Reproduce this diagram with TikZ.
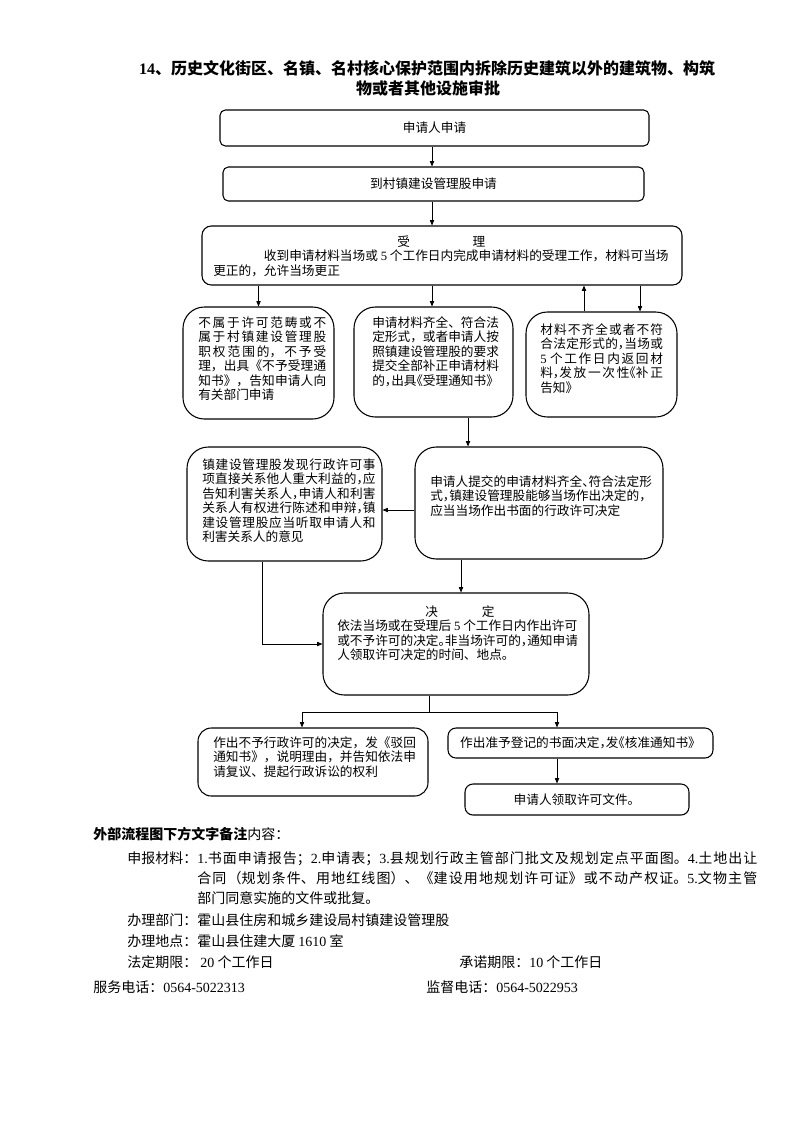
\documentclass[tikz,border=0pt]{standalone}
\usepackage{fontspec}
\setmainfont{Noto Sans CJK SC}
\newfontfamily\lat{Liberation Serif}
\usetikzlibrary{arrows.meta,calc}
\XeTeXlinebreaklocale "zh"
\XeTeXlinebreakskip = 0pt plus 3pt
\newcommand{\hl}[1]{\makebox[0.5em][l]{#1}}
\newcommand{\hr}[1]{\makebox[0.5em][r]{#1}}
\newcommand{\bx}[6]{\node[box=#6pt, minimum width=(#3-#1)*0.75pt, minimum height=(#4-#2)*0.75pt] (#5) at ({(#1+#3)/2},{(#2+#4)/2}) {};}
\begin{document}
\begin{tikzpicture}[x=0.75pt,y=-0.75pt,
  box/.style={draw, line width=0.8pt, rounded corners=#1, inner sep=0pt},
  box/.default=6pt,
  txt/.style={inner sep=0pt, font=\fontsize{9.5}{10.8}\selectfont, align=left},
  jtxt/.style={txt, align=justify},
  btxt/.style={inner sep=0pt, font=\fontsize{10.5}{15}\selectfont, align=left},
  ttl/.style={inner sep=0pt, font=\fontsize{12}{14}\selectfont\bfseries},
  arr/.style={-{Triangle[length=4pt,width=3.2pt]}, line width=0.6pt},
  ln/.style={line width=0.6pt}]
\useasboundingbox (0,0) rectangle (793,1122);
\fill[white] (0,0) rectangle (793,1122);

% title
\node[ttl] (t1) at (427,68) {{\lat\bfseries 14}、历史文化街区、名镇、名村核心保护范围内拆除历史建筑以外的建筑物、构筑};
\node[ttl] (t2) at (428,88) {物或者其他设施审批};

% boxes
\bx{220}{110}{649}{146}{a1}{4}
\bx{223}{167}{644}{201}{a2}{4}
\bx{202}{226}{682}{285}{a3}{7}
\bx{183}{307}{334}{419}{b1}{16}
\bx{354}{307}{513}{417}{b2}{16}
\bx{526}{312}{677}{417}{b3}{16}
\bx{187}{447}{382}{561}{c1}{16}
\bx{415}{447}{663}{559}{c2}{16}
\bx{323}{593}{589}{695}{d}{16}
\bx{198}{728}{428}{796}{e1}{10}
\bx{448}{728}{713}{758}{e2}{6}
\bx{465}{784}{689}{815}{f}{6}

% texts
\node[txt] (ta1) at (a1) {申请人申请};
\node[txt] (ta2) at (a2) {到村镇建设管理股申请};
\node[txt, anchor=north west] (ta3) at (213,235.5) {\hspace*{138pt}受\hspace*{47pt}理\\
\hspace*{38pt}收到申请材料当场或 {\lat 5} 个工作日内完成申请材料的受理工作，材料可当场\\
更正的，允许当场更正};
\node[jtxt, text width=96pt, anchor=north west] (tb1) at (198,316.5) {不属于许可范畴或不\linebreak
属于村镇建设管理股\linebreak
职权范围的，不予受\linebreak
理，出具《不予受理通\linebreak
知书》，告知申请人向\linebreak
有关部门申请};
\node[txt, anchor=north west] (tb2) at (372,316.5) {申请材料齐全、符合法\\
定形式，或者申请人按\\
照镇建设管理股的要求\\
提交全部补正申请材料\\
的\hl{，}出具\hr{《}受理通知书》};
\node[jtxt, text width=92pt, anchor=north west] (tb3) at (540,323.5) {材料不齐全或者不符\linebreak
合法定形式的\hl{，}当场或\linebreak
{\lat 5} 个工作日内返回材\linebreak
料\hl{，}发放一次性\hr{《}补正\linebreak
告知》};
\node[jtxt, text width=130pt, anchor=north west] (tc1) at (202,458.5) {镇建设管理股发现行政许可事\linebreak
项直接关系他人重大利益的\hl{，}应\linebreak
告知利害关系人\hl{，}申请人和利害\linebreak
关系人有权进行陈述和申辩\hl{，}镇\linebreak
建设管理股应当听取申请人和\linebreak
利害关系人的意见};
\node[txt, anchor=north west] (tc2) at (430,475.5) {申请人提交的申请材料齐全\hl{、}符合法定形\\
式\hl{，}镇建设管理股能够当场作出决定的\hl{，}\\
应当当场作出书面的行政许可决定};
\node[txt, anchor=north west] (td) at (337,605.5) {\hspace*{66pt}决\hspace*{33pt}定\\
依法当场或在受理后 {\lat 5} 个工作日内作出许可\\
或不予许可的决定\hl{。}非当场许可的\hl{，}通知申请\\
人领取许可决定的时间、地点。};
\node[txt, anchor=north west] (te1) at (213,736.5) {作出不予行政许可的决定，发《驳回\\
通知书》，说明理由，并告知依法申\\
请复议、提起行政诉讼的权利};
\node[txt] (te2) at (e2) {作出准予登记的书面决定\hl{，}发\hr{《}核准通知书》};
\node[txt] (tf) at (f) {申请人领取许可文件。};

% connectors
\draw[arr] (a1.south -| 432,0) -- (a2.north -| 432,0);
\draw[arr] (a2.south -| 432,0) -- (a3.north -| 432,0);
\draw[arr] (a3.south -| b1.north) -- (b1.north);
\draw[arr] (a3.south -| 432,0) -- (b2.north -| 432,0);
\draw[arr] (b3.north -| 584,0) -- (a3.south -| 584,0);
\draw[arr] (a3.south -| 640,0) -- (b3.north -| 640,0);
\draw[arr] (b2.south -| 468,0) -- (c2.north -| 468,0);
\draw[arr] (c2.west |- 0,510) -- (c1.east |- 0,510);
\draw[arr] (c2.south -| 461,0) -- (d.north -| 461,0);
\draw[arr] (c1.south -| 262,0) |- (d.west);
\coordinate (j) at (429,712);
\draw[ln] (d.south -| j) -- (j);
\draw[arr] (j) -| (e1.north -| 302,0);
\draw[arr] (j) -| (e2.north -| 557,0);
\draw[arr] (e2.south -| 557,0) -- (f.north -| 557,0);

% bottom notes
\node[btxt, anchor=west] (n0) at (93,834) {{\bfseries 外部流程图下方文字备注}内容：};
\node[btxt, anchor=west] (n1) at (127,858) {申报材料：};
\node[btxt, anchor=north west, text width=420pt, align=justify] (n1b) at (197,851) {{\lat 1.}书面申请报告；{\lat 2.}申请表；{\lat 3.}县规划行政主管部门批文及规划定点平面图。{\lat 4.}土地出让\linebreak
合同（规划条件、用地红线图）、《建设用地规划许可证》或不动产权证。{\lat 5.}文物主管\linebreak
部门同意实施的文件或批复。};
\node[btxt, anchor=west] (n2) at (127,920) {办理部门：霍山县住房和城乡建设局村镇建设管理股};
\node[btxt, anchor=west] (n3) at (127,941) {办理地点：霍山县住建大厦 {\lat 1610} 室};
\node[btxt, anchor=west] (n4) at (127,962) {法定期限：\ {\lat 20} 个工作日};
\node[btxt, anchor=west] (n5) at (459,962) {承诺期限：{\lat 10} 个工作日};
\node[btxt, anchor=west] (n6) at (93,987) {服务电话：{\lat 0564-5022313}};
\node[btxt, anchor=west] (n7) at (426,987) {监督电话：{\lat 0564-5022953}};
\end{tikzpicture}
\end{document}
